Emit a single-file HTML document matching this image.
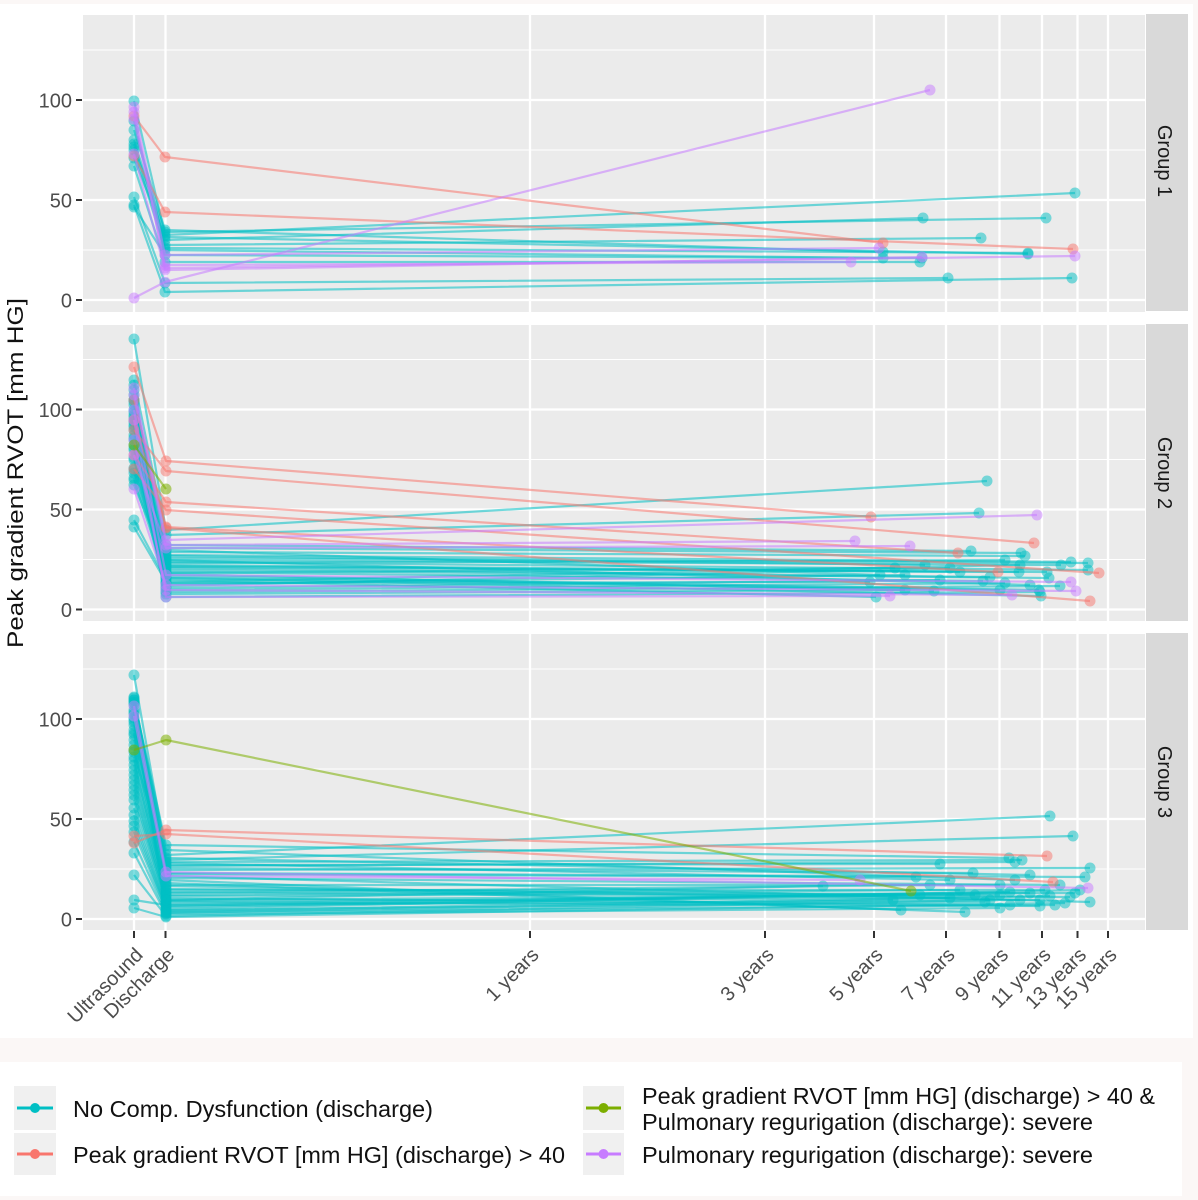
<!DOCTYPE html>
<html><head><meta charset="utf-8"><style>
html,body{margin:0;padding:0;background:#fbf7f6;}
svg{display:block;font-family:"Liberation Sans",Arial,sans-serif;}
.t{stroke:#00BFC4;}
.r{stroke:#F8766D;}
.p{stroke:#C77CFF;}
.g{stroke:#7CAE00;}
.t,.r,.p,.g{fill:none;stroke-width:2.2;stroke-opacity:.55;stroke-linejoin:round;}
.t{marker-start:url(#mt);marker-mid:url(#mt);marker-end:url(#mt);}
.r{marker-start:url(#mr);marker-mid:url(#mr);marker-end:url(#mr);}
.p{marker-start:url(#mp);marker-mid:url(#mp);marker-end:url(#mp);}
.g{marker-start:url(#mg);marker-mid:url(#mg);marker-end:url(#mg);}
.yl{font-size:20px;fill:#4d4d4d;text-anchor:end;}
.xl{font-size:20px;fill:#4d4d4d;text-anchor:end;}
.st{font-size:20px;fill:#1a1a1a;text-anchor:middle;}
.lg{font-size:23.5px;fill:#111;}
</style></head><body>
<svg width="1198" height="1200" viewBox="0 0 1198 1200" xmlns="http://www.w3.org/2000/svg">
<defs>
<marker id="mt" markerUnits="userSpaceOnUse" markerWidth="14" markerHeight="14" refX="7" refY="7" viewBox="0 0 14 14"><circle cx="7" cy="7" r="5.5" fill="#00BFC4" fill-opacity=".5"/></marker>
<marker id="mr" markerUnits="userSpaceOnUse" markerWidth="14" markerHeight="14" refX="7" refY="7" viewBox="0 0 14 14"><circle cx="7" cy="7" r="5.5" fill="#F8766D" fill-opacity=".5"/></marker>
<marker id="mp" markerUnits="userSpaceOnUse" markerWidth="14" markerHeight="14" refX="7" refY="7" viewBox="0 0 14 14"><circle cx="7" cy="7" r="5.5" fill="#C77CFF" fill-opacity=".5"/></marker>
<marker id="mg" markerUnits="userSpaceOnUse" markerWidth="14" markerHeight="14" refX="7" refY="7" viewBox="0 0 14 14"><circle cx="7" cy="7" r="5.5" fill="#7CAE00" fill-opacity=".55"/></marker>
</defs>

<rect x="0" y="0" width="1198" height="1200" fill="#fbf7f6"/>
<rect x="0" y="4" width="1193" height="1034" fill="#ffffff"/>
<rect x="0" y="1062" width="1182" height="134" fill="#ffffff"/>

<g fill="#ebebeb">
<rect x="83" y="15" width="1062" height="297"/>
<rect x="83" y="325" width="1062" height="296"/>
<rect x="83" y="634" width="1062" height="296"/>
</g>
<g fill="#d9d9d9">
<rect x="1146" y="14" width="42" height="297"/>
<rect x="1146" y="324" width="42" height="297"/>
<rect x="1146" y="633" width="42" height="297"/>
</g>

<g stroke="#ffffff" stroke-width="1.1">
<line x1="83" x2="1145" y1="50" y2="50"/><line x1="83" x2="1145" y1="150" y2="150"/><line x1="83" x2="1145" y1="250" y2="250"/>
<line x1="83" x2="1145" y1="359.5" y2="359.5"/><line x1="83" x2="1145" y1="459.5" y2="459.5"/><line x1="83" x2="1145" y1="559.5" y2="559.5"/>
<line x1="83" x2="1145" y1="669" y2="669"/><line x1="83" x2="1145" y1="769" y2="769"/><line x1="83" x2="1145" y1="869" y2="869"/>
</g>
<g stroke="#ffffff" stroke-width="2.3">
<line x1="83" x2="1145" y1="100" y2="100"/><line x1="83" x2="1145" y1="200" y2="200"/><line x1="83" x2="1145" y1="300" y2="300"/>
<line x1="83" x2="1145" y1="409.5" y2="409.5"/><line x1="83" x2="1145" y1="509.5" y2="509.5"/><line x1="83" x2="1145" y1="609.5" y2="609.5"/>
<line x1="83" x2="1145" y1="719" y2="719"/><line x1="83" x2="1145" y1="819" y2="819"/><line x1="83" x2="1145" y1="919" y2="919"/>
</g>
<g stroke="#ffffff" stroke-width="2.3">
<path d="M134 15V312M165.5 15V312M530 15V312M765 15V312M874 15V312M946 15V312M999.5 15V312M1042 15V312M1077.5 15V312M1108 15V312"/>
<path d="M134 325V621M165.5 325V621M530 325V621M765 325V621M874 325V621M946 325V621M999.5 325V621M1042 325V621M1077.5 325V621M1108 325V621"/>
<path d="M134 634V930M165.5 634V930M530 634V930M765 634V930M874 634V930M946 634V930M999.5 634V930M1042 634V930M1077.5 634V930M1108 634V930"/>
</g>

<!-- Group 1 -->
<polyline class="t" points="134,101 165,235 1075,193"/>
<polyline class="t" points="134,140 165,240 923,218"/>
<polyline class="t" points="134,147 165,232 1046,218"/>
<polyline class="t" points="134,121 165,245 981,238"/>
<polyline class="t" points="134,150 165,250 883,258"/>
<polyline class="t" points="134,158 165,237 1028,254"/>
<polyline class="t" points="134,166 165,262 920,262"/>
<polyline class="t" points="134,197 165,283 948,278"/>
<polyline class="t" points="134,205 165,292 1072,278"/>
<polyline class="t" points="134,207 165,255 922,258"/>
<polyline class="t" points="134,130 165,230 883,252"/>
<polyline class="t" points="134,144 165,248 1028,253"/>
<polyline class="r" points="134,116 165,157 883,243"/>
<polyline class="r" points="134,156 165,212 1073,249"/>
<polyline class="p" points="134,107 165,255 879,248"/>
<polyline class="p" points="134,119 165,265 851,262"/>
<polyline class="p" points="134,154 165,270 922,257"/>
<polyline class="p" points="134,112 165,268 1075,256"/>
<polyline class="p" points="134,298 165,282 930,90"/>

<!-- Group 2 -->
<polyline class="t" points="134,339 166,530 987,481"/>
<polyline class="t" points="134,380 166,535 979,513"/>
<polyline class="t" points="134,395 166,545 971,551"/>
<polyline class="t" points="134,400 166,548 1021,553"/>
<polyline class="t" points="134,405 166,552 1025,556"/>
<polyline class="t" points="134,410 166,555 1071,562"/>
<polyline class="t" points="134,415 166,558 1088,563"/>
<polyline class="t" points="134,420 166,560 1061,565"/>
<polyline class="t" points="134,425 166,562 1088,570"/>
<polyline class="t" points="134,430 166,565 1019,572"/>
<polyline class="t" points="134,435 166,567 1047,572"/>
<polyline class="t" points="134,440 166,570 1049,578"/>
<polyline class="t" points="134,450 166,572 983,581"/>
<polyline class="t" points="134,460 166,574 934,591"/>
<polyline class="t" points="134,470 166,576 1039,590"/>
<polyline class="t" points="134,480 166,578 1041,596"/>
<polyline class="t" points="134,520 166,580 876,597"/>
<polyline class="t" points="134,527 166,582 1020,565"/>
<polyline class="t" points="134,400 166,584 905,575"/>
<polyline class="t" points="134,412 166,586 950,568"/>
<polyline class="t" points="134,422 166,588 940,580"/>
<polyline class="t" points="134,438 166,590 1005,583"/>
<polyline class="t" points="134,448 166,592 1060,586"/>
<polyline class="t" points="134,458 166,594 905,590"/>
<polyline class="t" points="134,468 166,550 880,575"/>
<polyline class="t" points="134,473 166,556 925,565"/>
<polyline class="t" points="134,478 166,566 960,572"/>
<polyline class="t" points="134,390 166,573 895,568"/>
<polyline class="t" points="134,385 166,578 1000,590"/>
<polyline class="t" points="134,402 166,568 990,577"/>
<polyline class="t" points="134,417 166,560 1030,585"/>
<polyline class="t" points="134,427 166,583 870,582"/>
<polyline class="t" points="134,445 166,597 1040,592"/>
<polyline class="t" points="134,485 166,563 1005,560"/>
<polyline class="r" points="134,367 166,461 871,517"/>
<polyline class="r" points="134,430 166,471 1034,543"/>
<polyline class="r" points="134,455 166,502 958,553"/>
<polyline class="r" points="134,469 166,510 1099,573"/>
<polyline class="r" points="134,400 166,527 998,572"/>
<polyline class="r" points="134,420 166,528 1090,601"/>
<polyline class="p" points="134,388 166,540 1037,515"/>
<polyline class="p" points="134,395 166,545 855,541"/>
<polyline class="p" points="134,455 166,548 910,546"/>
<polyline class="p" points="134,410 166,575 1071,582"/>
<polyline class="p" points="134,489 166,585 1076,591"/>
<polyline class="p" points="134,420 166,597 890,596"/>
<polyline class="p" points="134,440 166,590 1012,595"/>
<polyline class="g" points="134,445 166,489"/>

<!-- Group 3 -->
<polyline class="t" points="134,675 166,855 1050,816"/>
<polyline class="t" points="134,697 166,860 1073,836"/>
<polyline class="t" points="134,700 166,845 1009,858"/>
<polyline class="t" points="134,705 166,862 1022,860"/>
<polyline class="t" points="134,710 166,865 940,864"/>
<polyline class="t" points="134,712 166,868 973,873"/>
<polyline class="t" points="134,718 166,870 1090,868"/>
<polyline class="t" points="134,722 166,873 1085,877"/>
<polyline class="t" points="134,730 166,876 1090,902"/>
<polyline class="t" points="134,740 166,880 901,910"/>
<polyline class="t" points="134,750 166,883 965,912"/>
<polyline class="t" points="134,757 166,886 1040,900"/>
<polyline class="t" points="134,765 166,889 1000,895"/>
<polyline class="t" points="134,770 166,892 1070,897"/>
<polyline class="t" points="134,780 166,895 960,890"/>
<polyline class="t" points="134,790 166,898 1010,905"/>
<polyline class="t" points="134,795 166,901 950,898"/>
<polyline class="t" points="134,808 166,904 1030,893"/>
<polyline class="t" points="134,821 166,907 920,895"/>
<polyline class="t" points="134,832 166,910 985,902"/>
<polyline class="t" points="134,842 166,912 1055,905"/>
<polyline class="t" points="134,853 166,914 1000,908"/>
<polyline class="t" points="134,875 166,916 990,900"/>
<polyline class="t" points="134,900 166,905 1020,900"/>
<polyline class="t" points="134,908 166,917 1065,903"/>
<polyline class="t" points="134,700 166,850 1015,880"/>
<polyline class="t" points="134,698 166,858 1030,875"/>
<polyline class="t" points="134,703 166,863 950,880"/>
<polyline class="t" points="134,725 166,878 1060,885"/>
<polyline class="t" points="134,735 166,885 1000,885"/>
<polyline class="t" points="134,745 166,890 1045,890"/>
<polyline class="t" points="134,760 166,893 930,885"/>
<polyline class="t" points="134,775 166,896 1075,893"/>
<polyline class="t" points="134,785 166,900 975,895"/>
<polyline class="t" points="134,800 166,902 1040,906"/>
<polyline class="t" points="134,815 166,906 1010,892"/>
<polyline class="t" points="134,826 166,909 1080,890"/>
<polyline class="t" points="134,702 166,911 1050,896"/>
<polyline class="t" points="134,714 166,913 893,900"/>
<polyline class="t" points="134,720 166,900 823,886"/>
<polyline class="t" points="134,733 166,874 916,877"/>
<polyline class="t" points="134,752 166,866 1015,862"/>
<polyline class="r" points="134,843 166,830 1047,856"/>
<polyline class="r" points="134,836 166,834 1053,882"/>
<polyline class="p" points="134,706 166,872 1088,888"/>
<polyline class="p" points="134,716 166,876 860,880"/>
<polyline class="g" points="134,750 166,740 911,891"/>

<g stroke="#333333" stroke-width="2">
<path d="M76 100H82M76 200H82M76 300H82M76 409.5H82M76 509.5H82M76 609.5H82M76 719H82M76 819H82M76 919H82"/>
<path d="M134 931V938M165.5 931V938M530 931V938M765 931V938M874 931V938M946 931V938M999.5 931V938M1042 931V938M1077.5 931V938M1108 931V938"/>
</g>

<g class="yl">
<text x="72" y="107.5">100</text><text x="72" y="207.5">50</text><text x="72" y="307.5">0</text>
<text x="72" y="417">100</text><text x="72" y="517">50</text><text x="72" y="617">0</text>
<text x="72" y="726.5">100</text><text x="72" y="826.5">50</text><text x="72" y="926.5">0</text>
</g>

<text transform="translate(23,473) rotate(-90)" text-anchor="middle" font-size="22" fill="#111" textLength="350" lengthAdjust="spacingAndGlyphs">Peak gradient RVOT [mm HG]</text>

<text class="st" transform="translate(1158,161) rotate(90)">Group 1</text>
<text class="st" transform="translate(1158,473) rotate(90)">Group 2</text>
<text class="st" transform="translate(1158,782) rotate(90)">Group 3</text>

<g class="xl">
<text transform="translate(144,956) rotate(-45)">Ultrasound</text>
<text transform="translate(175.5,956) rotate(-45)">Discharge</text>
<text transform="translate(540,956) rotate(-45)">1 years</text>
<text transform="translate(775,956) rotate(-45)">3 years</text>
<text transform="translate(884,956) rotate(-45)">5 years</text>
<text transform="translate(956,956) rotate(-45)">7 years</text>
<text transform="translate(1009.5,956) rotate(-45)">9 years</text>
<text transform="translate(1052,956) rotate(-45)">11 years</text>
<text transform="translate(1087.5,956) rotate(-45)">13 years</text>
<text transform="translate(1118,956) rotate(-45)">15 years</text>
</g>

<g fill="#f0f0f0">
<rect x="14" y="1086" width="42" height="44"/>
<rect x="14" y="1133" width="42" height="42"/>
<rect x="583" y="1086" width="41" height="44"/>
<rect x="583" y="1133" width="41" height="42"/>
</g>
<g stroke-width="3">
<line x1="17" x2="53" y1="1108" y2="1108" stroke="#00BFC4"/>
<line x1="17" x2="53" y1="1154" y2="1154" stroke="#F8766D"/>
<line x1="586" x2="621" y1="1108" y2="1108" stroke="#7CAE00"/>
<line x1="586" x2="621" y1="1154" y2="1154" stroke="#C77CFF"/>
</g>
<circle cx="35" cy="1108" r="5" fill="#00BFC4"/>
<circle cx="35" cy="1154" r="5" fill="#F8766D"/>
<circle cx="603.5" cy="1108" r="5" fill="#7CAE00"/>
<circle cx="603.5" cy="1154" r="5" fill="#C77CFF"/>
<g class="lg">
<text x="73" y="1117" textLength="360" lengthAdjust="spacingAndGlyphs">No Comp. Dysfunction (discharge)</text>
<text x="73" y="1163" textLength="492" lengthAdjust="spacingAndGlyphs">Peak gradient RVOT [mm HG] (discharge) &gt; 40</text>
<text x="642" y="1104" textLength="513" lengthAdjust="spacingAndGlyphs">Peak gradient RVOT [mm HG] (discharge) &gt; 40 &amp;</text>
<text x="642" y="1130" textLength="451" lengthAdjust="spacingAndGlyphs">Pulmonary regurigation (discharge): severe</text>
<text x="642" y="1163" textLength="451" lengthAdjust="spacingAndGlyphs">Pulmonary regurigation (discharge): severe</text>
</g>
</svg>
</body></html>
